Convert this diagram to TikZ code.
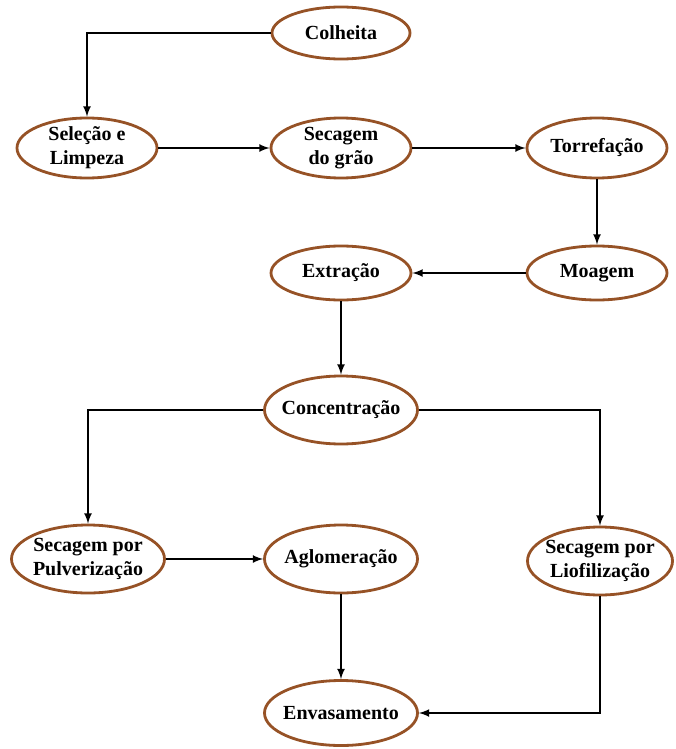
\documentclass[tikz,border=0pt]{standalone}
\usepackage{fontspec}
\setmainfont{Liberation Serif}
\usetikzlibrary{positioning,arrows,shapes.geometric}
\definecolor{cafe}{RGB}{150,82,38}
\tikzset{
  main/.style={ellipse, draw=cafe, line width=2.8pt, inner xsep=-6pt, inner ysep=-2pt, align=center,
    minimum width=140pt, minimum height=60pt, font=\fontsize{20}{24}\selectfont\bfseries},
  wide/.style={minimum width=153pt, minimum height=68pt},
  connect/.style={-latex, line width=2.5pt}
}

\begin{document}
\begin{tikzpicture}[x=1pt,y=-1pt]
    \useasboundingbox (0,0) rectangle (676,749);
    \node[main,minimum width=138pt,minimum height=52pt] (Colheita) at (341,33) {Colheita};
    \node[main] (Selecao) at (87,148) {Seleção e\\Limpeza};
    \node[main] (Secagem) at (341,148) {Secagem\\do grão};
    \node[main] (Torrefacao) at (597,148) {Torrefação};
    \node[main,minimum height=54pt] (Moagem) at (597,273) {Moagem};
    \node[main,minimum height=54pt] (Extracao) at (341,273) {Extração};
    \node[main,wide] (Concentracao) at (341,410) {Concentração};
    \node[main,wide] (Pulverizacao) at (88,559) {Secagem por\\Pulverização};
    \node[main,wide] (Aglomeracao) at (341,559) {Aglomeração};
    \node[main,wide,minimum width=145pt] (Liofilizacao) at (600,561) {Secagem por\\Liofilização};
    \node[main,wide,minimum height=65pt] (Envasamento) at (341,713) {Envasamento};

    \draw[connect] (Colheita.west) -| (Selecao.north);
    \path (Selecao) edge [connect] (Secagem)
          (Secagem) edge [connect] (Torrefacao)
          (Torrefacao) edge [connect] (Moagem)
          (Moagem) edge [connect] (Extracao)
          (Extracao) edge [connect] (Concentracao)
          (Pulverizacao) edge [connect] (Aglomeracao)
          (Aglomeracao) edge [connect] (Envasamento);
    \draw[connect] (Concentracao.west) -| (Pulverizacao.north);
    \draw[connect] (Concentracao.east) -| (Liofilizacao.north);
    \draw[connect] (Liofilizacao.south) |- (Envasamento.east);
\end{tikzpicture}
\end{document}
